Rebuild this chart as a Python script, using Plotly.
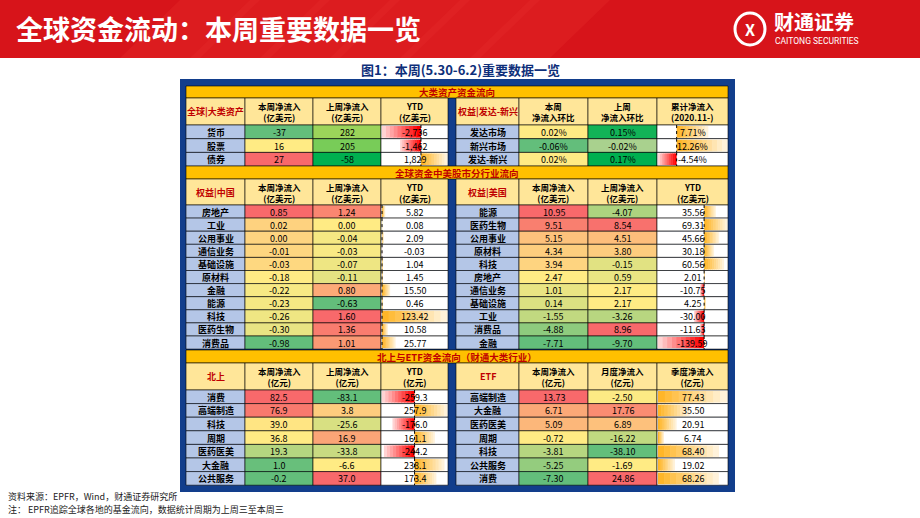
import plotly.graph_objects as go
import numpy as np

# ---------------- data ----------------
s1_left_labels = ['货币', '股票', '债券']
s1_left_this = [-37, 16, 27]
s1_left_last = [282, 205, -58]
s1_left_ytd = [-2736, -1462, 1829]

s1_right_labels = ['发达市场', '新兴市场', '发达-新兴']
s1_right_this = [0.02, -0.06, 0.02]
s1_right_last = [0.15, -0.02, 0.17]
s1_right_cum = [7.71, 12.26, -4.54]

s2_left_labels = ['房地产', '工业', '公用事业', '通信业务', '基础设施', '原材料', '金融', '能源', '科技', '医药生物', '消费品']
s2_left_this = [0.85, 0.02, 0.00, -0.01, -0.03, -0.18, -0.22, -0.23, -0.26, -0.30, -0.98]
s2_left_last = [1.24, 0.00, -0.04, -0.03, -0.07, -0.11, 0.80, -0.63, 1.60, 1.36, 1.01]
s2_left_ytd = [5.82, 0.08, 2.09, -0.03, 1.04, 1.45, 15.50, 0.46, 123.42, 10.58, 25.77]

s2_right_labels = ['能源', '医药生物', '公用事业', '原材料', '科技', '房地产', '通信业务', '基础设施', '工业', '消费品', '金融']
s2_right_this = [10.95, 9.51, 5.15, 4.34, 3.94, 2.47, 1.01, 0.14, -1.55, -4.88, -7.71]
s2_right_last = [-4.07, 8.54, 4.51, 3.80, -0.15, 0.59, 2.17, 2.17, -3.26, 8.96, -9.70]
s2_right_ytd = [35.56, 69.31, 45.66, 30.18, 60.56, 2.01, -10.75, 4.25, -30.00, -11.63, -139.59]

s3_left_labels = ['消费', '高端制造', '科技', '周期', '医药医美', '大金融', '公共服务']
s3_left_this = [82.5, 76.9, 39.0, 36.8, 19.3, 1.0, -0.2]
s3_left_last = [-83.1, 3.8, -25.6, 16.9, -33.8, -6.6, 37.0]
s3_left_ytd = [-259.3, 257.9, -176.0, 161.1, -244.2, 238.1, 173.4]

s3_right_labels = ['高端制造', '大金融', '医药医美', '周期', '科技', '公共服务', '消费']
s3_right_this = [13.73, 6.71, 5.09, -0.72, -3.81, -5.25, -7.30]
s3_right_month = [-2.50, 17.76, 6.89, -16.22, -38.10, -1.69, 24.86]
s3_right_quarter = [77.43, 35.50, 20.91, 6.74, 68.40, 19.02, 68.26]

# ---------------- layout helpers ----------------
FONT = "Noto Sans CJK SC"
shapes, annos = [], []
LX = [186, 245, 313, 381, 448]
RX = [456, 519, 588, 657, 728]

def rect(x0, y0, x1, y1, fill, line=None, lw=0.6, opacity=1):
    d = dict(type='rect', xref='x', yref='y', x0=x0, y0=y0, x1=x1, y1=y1,
             fillcolor=fill, opacity=opacity, layer='above')
    d['line'] = dict(color=line, width=lw) if line else dict(width=0)
    shapes.append(d)

def text(x, y, s, size=9, color='black', bold=False, xanchor='center', fam=FONT):
    if bold:
        s = '<b>' + s + '</b>'
    annos.append(dict(x=x, y=y, xref='x', yref='y', text=s, showarrow=False,
                      xanchor=xanchor, yanchor='middle',
                      font=dict(family=fam, size=size, color=color)))

def lerp(c1, c2, t):
    a = [int(c1[i:i+2], 16) for i in (1, 3, 5)]
    b = [int(c2[i:i+2], 16) for i in (1, 3, 5)]
    return 'rgb(%d,%d,%d)' % tuple(round(a[k] + (b[k] - a[k]) * t) for k in range(3))

GREEN, YEL, RED = '#63BE7B', '#FFEB84', '#F8696B'

def scale3(vals):
    v = np.array(vals, float)
    lo, mid, hi = v.min(), np.percentile(v, 50), v.max()
    out = []
    for x in v:
        if x <= mid:
            t = 0 if mid == lo else (x - lo) / (mid - lo)
            out.append(lerp(GREEN, YEL, t))
        else:
            t = 0 if hi == mid else (x - mid) / (hi - mid)
            out.append(lerp(YEL, RED, t))
    return out

def scale_green(vals, rev=False):
    v = np.array(vals, float)
    lo, hi = v.min(), v.max()
    a, b = ('#00B050', '#9BD45A') if rev else ('#A9D18E', '#00B050')
    return [lerp(a, b, (x - lo) / (hi - lo)) for x in v]

def fmt(v, dec, pct=False, comma=False):
    s = f"{v:,.{dec}f}" if comma else f"{v:.{dec}f}"
    return s + ('%' if pct else '')

def bar_cells(x0, x1, ys, h, vals, strs):
    v = np.array(vals, float)
    lo, hi = min(v.min(), 0), max(v.max(), 0)
    w = x1 - x0 - 2
    ax = x0 + 1 + w * (-lo) / (hi - lo)
    for y, val, s in zip(ys, vals, strs):
        rect(x0, y, x1, y + h, 'white', 'black')
        L = w * abs(val) / (hi - lo)
        n = 10
        for k in range(n):
            t = k / n
            if val >= 0:
                a, b = ax + L * t, min(ax + L * (t + 1 / n) + 0.6, ax + L)
                col = lerp('#FFB628', '#FFFFFF', t * 0.92)
            else:
                a, b = max(ax - L * (t + 1 / n) - 0.6, ax - L), ax - L * t
                col = lerp('#FF0000', '#FFFFFF', t * 0.92)
            rect(a, y + 1, b, y + h - 1, col)
        if lo < 0:
            shapes.append(dict(type='line', xref='x', yref='y', x0=ax, x1=ax, y0=y, y1=y + h,
                               line=dict(color='black', width=1, dash='dot'), layer='above'))
        text((x0 + x1) / 2, y + h / 2 + 0.5, s)

def block(X, y0, hh, rh, hdr, hcols, labels, cols):
    rect(X[0], y0, X[1], y0 + hh, '#FFE699', 'black')
    text((X[0] + X[1]) / 2, y0 + hh / 2, hdr, size=9, color='#C00000', bold=True)
    for i, hc in enumerate(hcols):
        rect(X[i + 1], y0, X[i + 2], y0 + hh, '#FFE699', 'black')
        text((X[i + 1] + X[i + 2]) / 2, y0 + hh / 2, hc, size=8.5, bold=True)
    ys = [y0 + hh + i * rh for i in range(len(labels))]
    for y, lab in zip(ys, labels):
        rect(X[0], y, X[1], y + rh, '#B4C6E7', 'black')
        text((X[0] + X[1]) / 2, y + rh / 2 + 0.5, lab, size=9, bold=True)
    for ci, (kind, vals, strs) in enumerate(cols):
        xa, xb = X[ci + 1], X[ci + 2]
        if kind == 'bar':
            bar_cells(xa, xb, ys, rh, vals, strs)
        else:
            if kind == 'green':
                colors = scale_green(vals)
            elif kind == 'greenr':
                colors = scale_green(vals, rev=True)
            else:
                colors = scale3(vals)
            for y, c, s in zip(ys, colors, strs):
                rect(xa, y, xb, y + rh, c, 'black')
                text((xa + xb) / 2, y + rh / 2 + 0.5, s)

def section(y0, y1, title):
    rect(LX[0], y0, RX[-1], y1, '#FFC000', 'black')
    text((LX[0] + RX[-1]) / 2, (y0 + y1) / 2, title, size=9.5, color='#C00000', bold=True)

# ---------------- background pieces ----------------
rect(0, 0, 920, 58, '#D7141A')
for k in range(6):
    shapes.append(dict(type='path', xref='x', yref='y', layer='above',
                       path=f'M {180+k*70} 0 L {260+k*70} 0 L {200+k*70} 58 L {120+k*70} 58 Z',
                       fillcolor='#E42A2A', opacity=0.35, line=dict(width=0)))
text(14, 28, '全球资金流动：本周重要数据一览', size=27, color='white', bold=True, xanchor='left')
shapes.append(dict(type='circle', xref='x', yref='y', x0=735, x1=765, y0=13, y1=45,
                   line=dict(color='white', width=3), layer='above'))
text(750, 29, 'X', size=16, color='white', bold=True)
text(772, 21, '财通证券', size=20, color='white', bold=True, xanchor='left')
text(773, 41, 'CAITONG SECURITIES', size=8.5, color='white', xanchor='left', fam='Roboto')
text(460, 69, '图1：本周(5.30-6.2)重要数据一览', size=13, color='#0E2F7A', bold=True)

rect(180, 79, 735, 492, '#123E8C')

# ---------------- section 1 ----------------
section(86, 98, '大类资产资金流向')
block(LX, 98, 27, 13.7, '全球|大类资产', ['本周净流入<br>(亿美元)', '上周净流入<br>(亿美元)', 'YTD<br>(亿美元)'],
      s1_left_labels,
      [('s3', s1_left_this, [fmt(v, 0) for v in s1_left_this]),
       ('greenr', s1_left_last, [fmt(v, 0) for v in s1_left_last]),
       ('bar', s1_left_ytd, [fmt(v, 0, comma=True) for v in s1_left_ytd])])
block(RX, 98, 27, 13.7, '权益|发达-新兴', ['本周<br>净流入环比', '上周<br>净流入环比', '累计净流入<br>(2020.11-)'],
      s1_right_labels,
      [('s3', s1_right_this, [fmt(v, 2, True) for v in s1_right_this]),
       ('green', s1_right_last, [fmt(v, 2, True) for v in s1_right_last]),
       ('bar', s1_right_cum, [fmt(v, 2, True) for v in s1_right_cum])])

# ---------------- section 2 ----------------
section(166, 179, '全球资金中美股市分行业流向')
block(LX, 179, 26, 13.1, '权益|中国', ['本周净流入<br>(亿美元)', '上周净流入<br>(亿美元)', 'YTD<br>(亿美元)'],
      s2_left_labels,
      [('s3', s2_left_this, [fmt(v, 2) for v in s2_left_this]),
       ('s3', s2_left_last, [fmt(v, 2) for v in s2_left_last]),
       ('bar', s2_left_ytd, [fmt(v, 2) for v in s2_left_ytd])])
block(RX, 179, 26, 13.1, '权益|美国', ['本周净流入<br>(亿美元)', '上周净流入<br>(亿美元)', 'YTD<br>(亿美元)'],
      s2_right_labels,
      [('s3', s2_right_this, [fmt(v, 2) for v in s2_right_this]),
       ('s3', s2_right_last, [fmt(v, 2) for v in s2_right_last]),
       ('bar', s2_right_ytd, [fmt(v, 2) for v in s2_right_ytd])])

# ---------------- section 3 ----------------
section(350, 363, '北上与ETF资金流向（财通大类行业）')
block(LX, 363, 27, 13.6, '北上', ['本周净流入<br>(亿元)', '上周净流入<br>(亿元)', 'YTD<br>(亿元)'],
      s3_left_labels,
      [('s3', s3_left_this, [fmt(v, 1) for v in s3_left_this]),
       ('s3', s3_left_last, [fmt(v, 1) for v in s3_left_last]),
       ('bar', s3_left_ytd, [fmt(v, 1) for v in s3_left_ytd])])
block(RX, 363, 27, 13.6, 'ETF', ['本周净流入<br>(亿元)', '月度净流入<br>(亿元)', '季度净流入<br>(亿元)'],
      s3_right_labels,
      [('s3', s3_right_this, [fmt(v, 2) for v in s3_right_this]),
       ('s3', s3_right_month, [fmt(v, 2) for v in s3_right_month]),
       ('bar', s3_right_quarter, [fmt(v, 2) for v in s3_right_quarter])])

text(6, 496, '资料来源：EPFR，Wind，财通证券研究所', size=9, color='#222', xanchor='left')
text(6, 509, '注： EPFR追踪全球各地的基金流向，数据统计周期为上周三至本周三', size=9, color='#222', xanchor='left')

fig = go.Figure()
fig.update_layout(width=920, height=518, margin=dict(l=0, r=0, t=0, b=0),
                  paper_bgcolor='white', plot_bgcolor='white',
                  xaxis=dict(range=[0, 920], visible=False, fixedrange=True),
                  yaxis=dict(range=[518, 0], visible=False, fixedrange=True),
                  shapes=shapes, annotations=annos, showlegend=False)
fig.write_html("out.html", config=dict(displayModeBar=False),
               post_script="document.body.style.margin='0';document.body.style.overflow='hidden';")
